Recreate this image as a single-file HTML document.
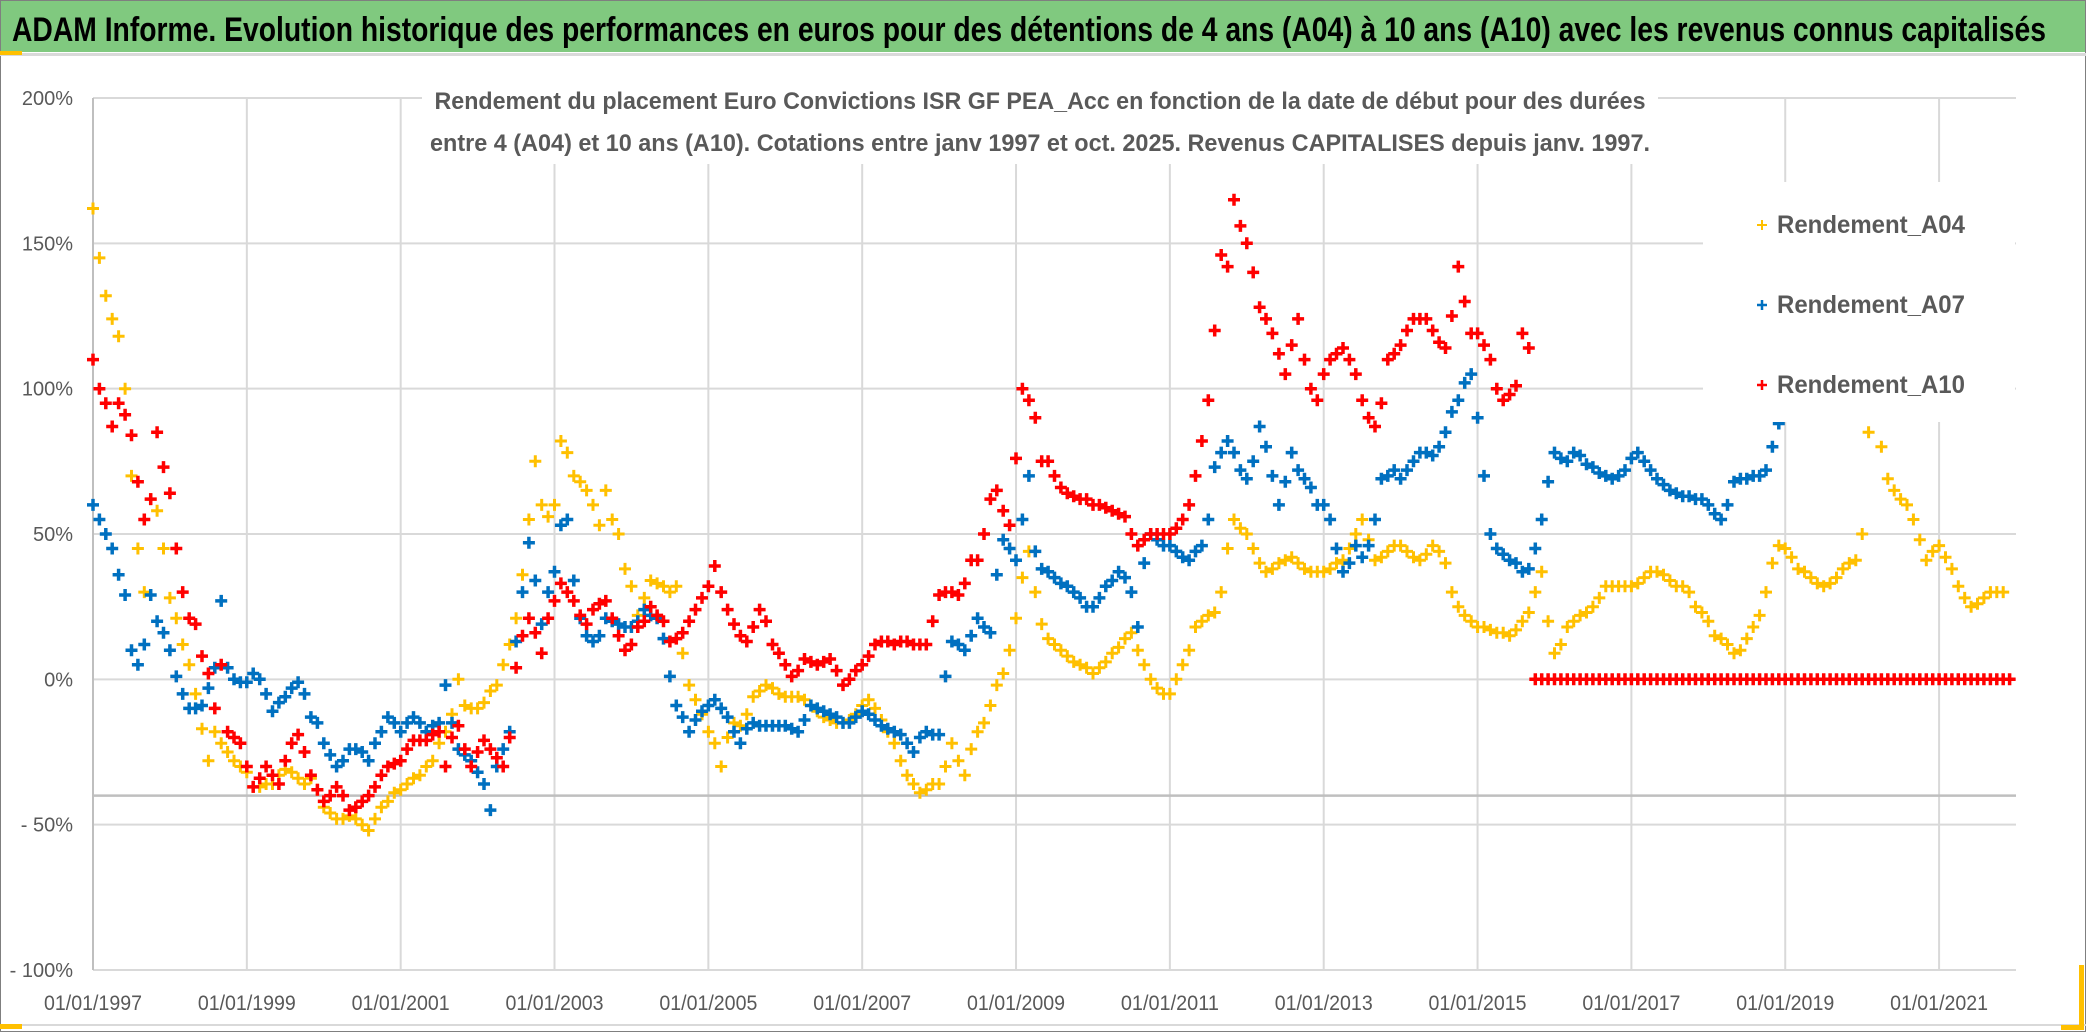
<!DOCTYPE html>
<html><head><meta charset="utf-8"><title>ADAM Informe chart</title>
<style>
html,body{margin:0;padding:0;background:#fff;}
svg{display:block;}
text{font-family:"Liberation Sans",sans-serif;}
</style></head>
<body>
<svg id="chart" width="2086" height="1032" viewBox="0 0 2086 1032" xmlns="http://www.w3.org/2000/svg">
  <rect x="0" y="0" width="2086" height="1032" fill="#ffffff"/>
  <rect x="0.5" y="0.5" width="2085" height="1031" fill="none" stroke="#7f7f7f" stroke-width="1"/>
  <rect x="1" y="1" width="2084" height="51" fill="#80c97f"/>
  <rect x="0" y="53" width="2086" height="3" fill="#d9d9d9"/>
  <rect x="0" y="51" width="22" height="4" fill="#ffc000"/>
  <rect x="0" y="1024" width="2086" height="2" fill="#d9d9d9"/>
  <rect x="0" y="1024" width="22" height="5" fill="#ffc000"/>
  <rect x="2079" y="965" width="5" height="65" fill="#ffc000"/>
  <rect x="2061" y="1025" width="23" height="5" fill="#ffc000"/>
  <text x="12" y="41" font-size="34" font-weight="bold" fill="#000" textLength="2034" lengthAdjust="spacingAndGlyphs">ADAM Informe. Evolution historique des performances en euros pour des détentions de 4 ans (A04) à 10 ans (A10) avec les revenus connus capitalisés</text>
  <g id="grid"></g>
  <g id="yaxis"></g>
  <g id="xaxis"></g>
  <g id="series"></g>
  <rect x="422" y="80" width="1236" height="84" fill="#ffffff"/>
  <text x="1040" y="109" font-size="24" font-weight="bold" fill="#595959" text-anchor="middle" textLength="1211" lengthAdjust="spacingAndGlyphs">Rendement du placement Euro Convictions ISR GF PEA_Acc en fonction de la date de début pour des durées</text>
  <text x="1040" y="151" font-size="24" font-weight="bold" fill="#595959" text-anchor="middle" textLength="1220" lengthAdjust="spacingAndGlyphs">entre 4 (A04) et 10 ans (A10). Cotations entre janv 1997 et oct. 2025. Revenus CAPITALISES depuis janv. 1997.</text>
  <g id="legend">
    <rect x="1703" y="182" width="312" height="240" fill="#ffffff"/>
    <g>
      <path d="M1757 225h10M1762 220v10" stroke="#ffc000" stroke-width="2"/>
      <text x="1777" y="233" font-size="25" font-weight="bold" fill="#595959" textLength="188" lengthAdjust="spacingAndGlyphs">Rendement_A04</text>
    </g>
    <g>
      <path d="M1757 305h10M1762 300v10" stroke="#0070c0" stroke-width="2.5"/>
      <text x="1777" y="313" font-size="25" font-weight="bold" fill="#595959" textLength="188" lengthAdjust="spacingAndGlyphs">Rendement_A07</text>
    </g>
    <g>
      <path d="M1757 385h10M1762 380v10" stroke="#ff0000" stroke-width="2.5"/>
      <text x="1777" y="393" font-size="25" font-weight="bold" fill="#595959" textLength="188" lengthAdjust="spacingAndGlyphs">Rendement_A10</text>
    </g>
  </g>
</svg>
<script>
// ---- data (monthly values in %, first value = January 1997) ----
const startYear = 1997;
const yTicks = [200, 150, 100, 50, 0, -50, -100];
const yTickLabels = ["200%", "150%", "100%", "50%", "0%", "- 50%", "- 100%"];
const xTickYears = [1997, 1999, 2001, 2003, 2005, 2007, 2009, 2011, 2013, 2015, 2017, 2019, 2021];
const xTickLabels = ["01/01/1997","01/01/1999","01/01/2001","01/01/2003","01/01/2005","01/01/2007","01/01/2009","01/01/2011","01/01/2013","01/01/2015","01/01/2017","01/01/2019","01/01/2021"];
const refLineValue = -40;

const rendementA04 = [
 162,145,132,124,118,100,70,45,30,62,58,45,
 28,21,12,5,-5,-17,-28,-18,-22,-25,-28,-30,
 -32,-37,-37,-36,-36,-33,-31,-32,-34,-36,-34,-38,
 -44,-46,-48,-48,-47,-48,-50,-52,-48,-44,-42,-39,
 -38,-36,-34,-33,-30,-28,-22,-18,-12,0,-9,-10,
 -10,-8,-4,-2,5,12,21,36,55,75,60,56,
 60,82,78,70,68,65,60,53,65,55,50,38,
 32,22,28,34,33,32,30,32,9,-2,-7,-12,
 -18,-22,-30,-20,-15,-16,-12,-6,-4,-2,-3,-5,
 -6,-6,-6,-7,-9,-11,-13,-14,-15,-15,-14,-12,
 -9,-7,-10,-14,-18,-22,-28,-33,-36,-39,-38,-36,
 -36,-30,-22,-28,-33,-24,-18,-15,-9,-2,2,10,
 21,35,44,30,19,14,12,10,8,6,5,4,
 2,4,6,9,11,14,16,10,5,0,-3,-5,
 -5,0,5,10,18,20,22,23,30,45,55,52,
 50,45,40,37,38,40,41,42,40,38,37,37,
 37,38,40,41,45,50,55,48,41,42,44,46,
 46,44,42,41,43,46,44,40,30,25,22,20,
 18,18,17,16,16,15,17,20,23,30,37,20,
 9,12,18,20,22,23,25,28,32,32,32,32,
 32,33,35,37,37,36,34,32,32,30,25,23,
 20,15,14,12,9,10,14,18,22,30,40,46,
 45,42,38,37,35,33,32,33,35,38,40,41,
 50,85,95,80,69,65,62,60,55,48,41,44,
 46,42,38,32,28,25,26,28,30,30,30
];
const rendementA07 = [
 60,55,50,45,36,29,10,5,12,29,20,16,
 10,1,-5,-10,-10,-9,-3,4,27,4,0,-1,
 -1,2,0,-5,-11,-8,-6,-3,-1,-5,-13,-15,
 -22,-26,-30,-28,-24,-24,-25,-28,-22,-18,-13,-15,
 -18,-15,-13,-15,-18,-16,-15,-2,-15,-24,-26,-28,
 -32,-36,-45,-30,-24,-18,13,30,47,34,19,30,
 37,53,55,34,21,15,13,15,21,20,19,18,
 18,20,24,22,21,14,1,-9,-13,-18,-14,-11,
 -9,-7,-10,-13,-18,-22,-17,-15,-16,-16,-16,-16,
 -16,-17,-18,-14,-9,-10,-11,-12,-13,-15,-15,-13,
 -11,-12,-14,-16,-17,-18,-19,-22,-25,-20,-18,-19,
 -19,1,13,12,10,15,21,18,16,36,48,45,
 41,55,70,44,38,37,35,33,32,30,28,25,
 25,28,32,34,37,35,30,18,40,50,48,46,
 46,44,42,41,44,46,55,73,78,82,78,72,
 69,75,87,80,70,60,68,78,72,69,66,60,
 60,55,45,37,40,46,42,46,55,69,70,72,
 69,72,75,78,78,77,80,85,92,96,102,105,
 90,70,50,45,43,41,40,37,38,45,55,68,
 78,76,75,78,77,74,73,71,70,69,70,72,
 76,78,75,72,69,67,65,64,63,63,62,62,
 60,57,55,60,68,69,69,70,70,72,80,88
];
const rendementA10 = [
 110,100,95,87,95,91,84,68,55,62,85,73,
 64,45,30,21,19,8,2,-10,5,-18,-20,-22,
 -30,-37,-34,-30,-33,-36,-28,-22,-19,-25,-33,-38,
 -42,-40,-37,-40,-45,-44,-42,-40,-37,-33,-30,-29,
 -28,-24,-21,-21,-21,-19,-18,-30,-20,-16,-24,-30,
 -25,-21,-24,-27,-30,-20,4,15,21,16,9,21,
 27,33,30,27,22,19,24,26,27,21,15,10,
 12,18,20,25,22,20,13,14,16,20,24,28,
 32,39,30,24,19,15,13,18,24,20,12,9,
 5,1,3,7,6,5,6,7,3,-2,0,3,
 5,8,12,13,13,12,13,13,12,12,12,20,
 29,30,30,29,33,41,41,50,62,65,58,53,
 76,100,96,90,75,75,70,66,64,63,62,62,
 60,60,59,58,57,56,50,46,48,50,50,50,
 50,52,55,60,70,82,96,120,146,142,165,156,
 150,140,128,124,119,112,105,115,124,110,100,96,
 105,110,112,114,110,105,96,90,87,95,110,112,
 115,120,124,124,124,120,116,114,125,142,130,119,
 119,115,110,100,96,98,101,119,114,
 0,0,0,
 0,0,0,0,0,0,0,0,0,0,0,0,
 0,0,0,0,0,0,0,0,0,0,0,0,
 0,0,0,0,0,0,0,0,0,0,0,0,
 0,0,0,0,0,0,0,0,0,0,0,0,
 0,0,0,0,0,0,0,0,0,0,0,0,
 0,0,0,0,0,0,0,0,0,0,0,0
];

// ---- layout ----
const NS = "http://www.w3.org/2000/svg";
const plot = {left: 93, right: 2016, top: 98, bottom: 970};
const xMin = 1997, xMax = 2022.0;
const yMin = -100, yMax = 200;
function xScale(year){ return plot.left + (year - xMin) / (xMax - xMin) * (plot.right - plot.left); }
function yScale(v){ return plot.bottom - (v - yMin) / (yMax - yMin) * (plot.bottom - plot.top); }
function mk(tag, attrs, parent){
  const el = document.createElementNS(NS, tag);
  for (const k in attrs) el.setAttribute(k, attrs[k]);
  parent.appendChild(el);
  return el;
}

const grid = document.getElementById('grid');
yTicks.forEach((t) => {
  const ln = mk('line', {x1: plot.left, x2: plot.right, y1: yScale(t), y2: yScale(t), stroke: '#d9d9d9', 'stroke-width': 2}, grid);
  
  
});
xTickYears.forEach((yr) => {
  if (yr === xMin) return;
  const ln = mk('line', {x1: xScale(yr), x2: xScale(yr), y1: plot.top, y2: plot.bottom, stroke: '#d9d9d9', 'stroke-width': 2}, grid);
  
  
});
const axisLine = mk('line', {x1: plot.left, x2: plot.left, y1: plot.top, y2: plot.bottom, stroke: '#bfbfbf', 'stroke-width': 2}, grid);


const refLine = mk('line', {x1: plot.left, x2: plot.right, y1: yScale(refLineValue), y2: yScale(refLineValue), stroke: '#bfbfbf', 'stroke-width': 2.5}, grid);



const yaxis = document.getElementById('yaxis');
yTicks.forEach((t, i) => {
  const tx = mk('text', {x: 73, y: yScale(t) + 7, 'font-size': 20, fill: '#595959', 'text-anchor': 'end'}, yaxis);
  tx.textContent = yTickLabels[i];
  
  
});
const xaxis = document.getElementById('xaxis');
xTickYears.forEach((yr, i) => {
  const tx = mk('text', {x: xScale(yr), y: 1010, 'font-size': 21, fill: '#595959', 'text-anchor': 'middle', textLength: 98, lengthAdjust: 'spacingAndGlyphs'}, xaxis);
  tx.textContent = xTickLabels[i];
  
  
});

const seriesG = document.getElementById('series');
function drawSeries(values, color, name, sw){
  const g = mk('g', {stroke: color, 'stroke-width': sw, fill: 'none'}, seriesG);
  
  
  let d = '';
  values.forEach((v, i) => {
    const x = xScale(startYear + i / 12), y = yScale(v);
    d += 'M' + (x - 6).toFixed(1) + ' ' + y.toFixed(1) + 'h12M' + x.toFixed(1) + ' ' + (y - 6).toFixed(1) + 'v12';
  });
  const p = mk('path', {d: d}, g);
  
  
}
drawSeries(rendementA04, '#ffc000', 'series-a04', 3);
drawSeries(rendementA07, '#0070c0', 'series-a07', 3.5);
drawSeries(rendementA10, '#ff0000', 'series-a10', 3.5);
</script>
</body></html>
